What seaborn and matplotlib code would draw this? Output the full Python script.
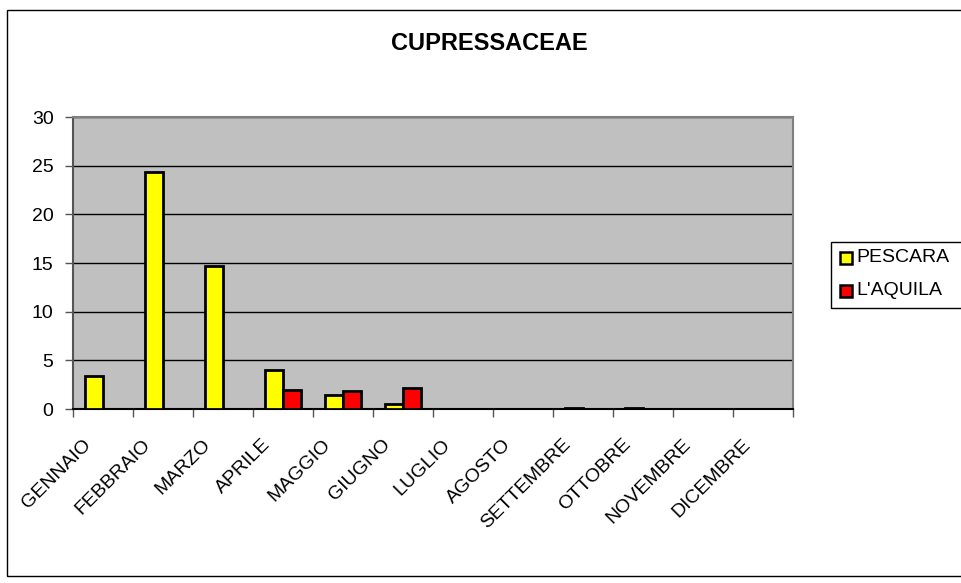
import matplotlib
matplotlib.use("Agg")
import matplotlib.pyplot as plt
import matplotlib.transforms as mtransforms
from matplotlib.patches import Rectangle
import seaborn as sns
import pandas as pd

months = ["GENNAIO", "FEBBRAIO", "MARZO", "APRILE", "MAGGIO", "GIUGNO",
          "LUGLIO", "AGOSTO", "SETTEMBRE", "OTTOBRE", "NOVEMBRE", "DICEMBRE"]
pescara = [3.4, 24.4, 14.7, 4.0, 1.45, 0.55, 0.0, 0.0, 0.1, 0.07, 0.0, 0.0]
laquila = [0.0, 0.0, 0.0, 1.95, 1.9, 2.2, 0.0, 0.0, 0.0, 0.0, 0.0, 0.0]
series = ["PESCARA", "L'AQUILA"]
colors = ["#FFFF00", "#FF0000"]
yticks = [0, 5, 10, 15, 20, 25, 30]

df = pd.DataFrame({
    "mese": months * 2,
    "valore": pescara + laquila,
    "stazione": [series[0]] * len(months) + [series[1]] * len(months),
})

sns.set_theme(style="white")
plt.rcParams["font.family"] = ["Liberation Sans", "DejaVu Sans"]
plt.rcParams["text.color"] = "black"
plt.rcParams["xtick.color"] = "black"
plt.rcParams["ytick.color"] = "black"

W, H = 961, 583
fig = plt.figure(figsize=(W / 100, H / 100), dpi=100)


def fx(px):
    return px / W


def fy(py):
    return 1 - py / H


ax = fig.add_axes([fx(73), fy(409), 720 / W, 292 / H])
ax.set_facecolor("#C0C0C0")

sns.barplot(data=df, x="mese", y="valore", hue="stazione", order=months,
            hue_order=series, palette=colors, width=0.6, gap=0,
            edgecolor="black", linewidth=2, saturation=1, ax=ax, zorder=3,
            legend=False)

ax.set_xlim(-0.5, len(months) - 0.5)
ax.set_ylim(0, 30)
ax.set_yticks(yticks)
ax.set_yticklabels([str(t) for t in yticks], fontsize=14)
ax.yaxis.grid(True, color="black", linewidth=1, zorder=1)
ax.set_axisbelow(True)

# category ticks sit on the boundaries between months
ax.set_xticks([i - 0.5 for i in range(len(months) + 1)])
ax.set_xticklabels([])
ax.tick_params(axis="x", direction="out", length=6, width=1,
               color="#555555", bottom=True)
ax.tick_params(axis="y", direction="out", length=6, width=1, color="#555555",
               left=True, pad=8, labelcolor="black")

# rotated month names, hung below each category
label_tf = mtransforms.offset_copy(ax.get_xaxis_transform(), fig=fig,
                                   x=-15, y=-33, units="dots")
for i, m in enumerate(months):
    ax.text(i, 0, m, transform=label_tf, rotation=45, ha="right",
            va="center", rotation_mode="anchor", fontsize=14, color="black")

ax.set_xlabel("")
ax.set_ylabel("")
for side in ["top", "right"]:
    ax.spines[side].set_color("#808080")
    ax.spines[side].set_linewidth(1.5)
ax.spines["left"].set_color("#555555")
ax.spines["left"].set_linewidth(1.5)
ax.spines["bottom"].set_color("black")
ax.spines["bottom"].set_linewidth(1.5)

fig.text(fx(489), fy(44), "CUPRESSACEAE", ha="center", va="center",
         fontsize=17, fontweight="bold", color="black")

# legend box, running off the right edge of the chart
fig.patches.append(Rectangle((fx(831), fy(308)), fx(200), 66 / H,
                             transform=fig.transFigure, facecolor="white",
                             edgecolor="black", linewidth=1))
row_y = [258, 291]
for name, col, yy in zip(series, colors, row_y):
    fig.patches.append(Rectangle((fx(840), fy(yy + 6)), 12 / W, 12 / H,
                                 transform=fig.transFigure, facecolor=col,
                                 edgecolor="black", linewidth=1.8))
    fig.text(fx(856), fy(yy), name, ha="left", va="center", fontsize=14,
             color="black")

# outer chart border
fig.patches.append(Rectangle((fx(7), fy(576)), 990 / W, 566 / H,
                             transform=fig.transFigure, fill=False,
                             edgecolor="black", linewidth=1))

fig.savefig("out.png", dpi=100, facecolor="white")
